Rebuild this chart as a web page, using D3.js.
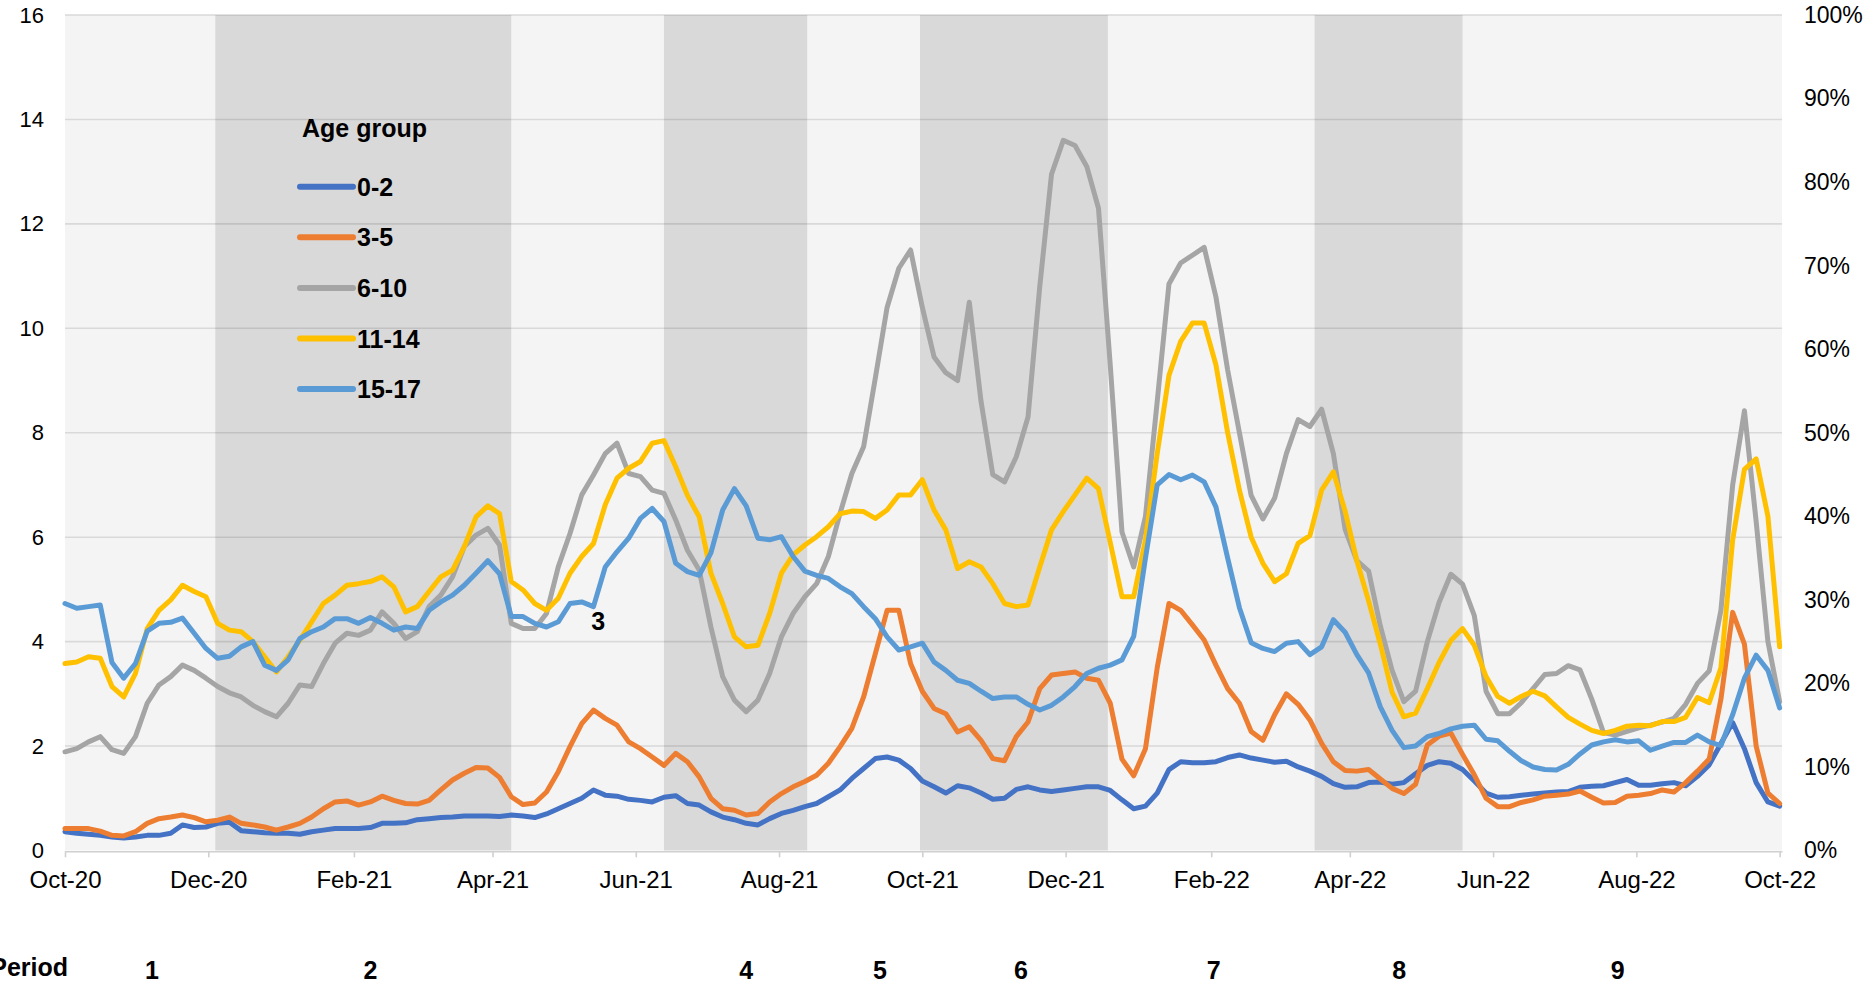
<!DOCTYPE html>
<html>
<head>
<meta charset="utf-8">
<script src="https://cdn.jsdelivr.net/npm/d3@7"></script>
<style>
  body { margin: 0; background: #fff; }
  svg { display: block; font-family: "Liberation Sans", Arial, sans-serif; }
</style>
</head>
<body>
<svg id="chart" width="1865" height="984"></svg>
<script>
// Series are sampled every 5 days starting 1 Oct 2020.
const startDate = "2020-10-01";
const stepDays = 5;

const ageGroups = ["0-2", "3-5", "6-10", "11-14", "15-17"];
const groupColors = ["#4472C4", "#ED7D31", "#A5A5A5", "#FFC000", "#5B9BD5"];

const age0to2 = [
  0.36, 0.33, 0.31, 0.29, 0.26, 0.24, 0.26, 0.29, 0.29, 0.33, 0.49, 0.44, 0.45, 0.52, 0.54, 0.38, 0.36, 0.34, 0.33,
  0.33, 0.31, 0.36, 0.39, 0.42, 0.42, 0.42, 0.44, 0.52, 0.52, 0.53, 0.59, 0.61, 0.63, 0.64, 0.66, 0.66, 0.66, 0.65,
  0.68, 0.66, 0.63, 0.70, 0.80, 0.90, 1.00, 1.16, 1.06, 1.04, 0.98, 0.96, 0.93, 1.02, 1.05, 0.90, 0.87, 0.74,
  0.64, 0.59, 0.52, 0.49, 0.61, 0.71, 0.77, 0.84, 0.90, 1.03, 1.16, 1.38, 1.57, 1.76, 1.79, 1.73, 1.57,
  1.33, 1.22, 1.10, 1.24, 1.20, 1.10, 0.98, 1.00, 1.17, 1.22, 1.16, 1.13, 1.16, 1.19, 1.22, 1.22, 1.15, 0.97, 0.80,
  0.85, 1.10, 1.55, 1.70, 1.68, 1.68, 1.70, 1.78, 1.83, 1.77, 1.73, 1.69, 1.71, 1.60, 1.52, 1.42, 1.28, 1.21, 1.22,
  1.30, 1.31, 1.27, 1.30, 1.47, 1.63, 1.70, 1.67, 1.55, 1.33, 1.10, 1.02, 1.03, 1.06, 1.08, 1.10, 1.12, 1.13,
  1.21, 1.23, 1.24, 1.30, 1.36, 1.25, 1.25, 1.28, 1.30, 1.24, 1.42, 1.64, 2.05, 2.45, 1.95, 1.30, 0.93, 0.85
];

const age3to5 = [
  0.42, 0.42, 0.42, 0.37, 0.29, 0.28, 0.36, 0.52, 0.61, 0.64, 0.68, 0.63, 0.55, 0.58, 0.64, 0.52, 0.49, 0.45, 0.39,
  0.45, 0.52, 0.64, 0.80, 0.93, 0.95, 0.87, 0.93, 1.04, 0.96, 0.90, 0.89, 0.96, 1.16, 1.35, 1.48, 1.59, 1.58, 1.40,
  1.03, 0.88, 0.91, 1.12, 1.51, 1.99, 2.43, 2.69, 2.53, 2.40, 2.08, 1.95, 1.79, 1.63, 1.86, 1.70, 1.41, 1.00,
  0.80, 0.77, 0.68, 0.71, 0.93, 1.09, 1.22, 1.32, 1.44, 1.67, 1.99, 2.34, 2.94, 3.77, 4.60, 4.60, 3.58,
  3.05, 2.72, 2.62, 2.27, 2.37, 2.11, 1.76, 1.72, 2.18, 2.46, 3.10, 3.36, 3.39, 3.42, 3.30, 3.26, 2.82, 1.75, 1.43,
  1.95, 3.50, 4.73, 4.60, 4.32, 4.03, 3.55, 3.10, 2.82, 2.28, 2.11, 2.60, 3.00, 2.80, 2.50, 2.05, 1.70, 1.53, 1.52,
  1.55, 1.37, 1.19, 1.09, 1.27, 2.02, 2.19, 2.25, 1.84, 1.45, 1.00, 0.84, 0.84, 0.92, 0.97, 1.04, 1.06, 1.08,
  1.14, 1.02, 0.91, 0.92, 1.04, 1.06, 1.09, 1.16, 1.12, 1.30, 1.52, 1.75, 2.90, 4.56, 3.95, 2.00, 1.10, 0.90
];

const age6to10 = [
  1.89, 1.95, 2.08, 2.18, 1.93, 1.86, 2.18, 2.82, 3.17, 3.33, 3.55, 3.45, 3.30, 3.14, 3.02, 2.94, 2.78, 2.66, 2.56,
  2.82, 3.17, 3.14, 3.58, 3.97, 4.16, 4.12, 4.22, 4.57, 4.35, 4.06, 4.19, 4.67, 4.89, 5.24, 5.82, 6.04, 6.17, 5.85,
  4.35, 4.25, 4.25, 4.54, 5.43, 6.07, 6.81, 7.19, 7.60, 7.80, 7.22, 7.16, 6.90, 6.84, 6.33, 5.75, 5.37, 4.28,
  3.33, 2.88, 2.66, 2.88, 3.39, 4.09, 4.54, 4.86, 5.11, 5.63, 6.46, 7.22, 7.73, 9.05, 10.40, 11.15, 11.50,
  10.40, 9.45, 9.15, 9.00, 10.50, 8.60, 7.20, 7.06, 7.54, 8.30, 10.80, 12.95, 13.60, 13.50, 13.10, 12.30, 9.30, 6.10, 5.43,
  6.40, 8.60, 10.85, 11.25, 11.40, 11.55, 10.60, 9.20, 8.00, 6.80, 6.35, 6.75, 7.60, 8.25, 8.12, 8.45, 7.60, 6.15, 5.55,
  5.35, 4.30, 3.45, 2.85, 3.05, 4.00, 4.75, 5.29, 5.10, 4.50, 3.05, 2.62, 2.62, 2.83, 3.10, 3.37, 3.39, 3.54,
  3.46, 2.90, 2.26, 2.21, 2.28, 2.35, 2.40, 2.46, 2.53, 2.80, 3.20, 3.44, 4.60, 7.00, 8.42, 6.30, 4.00, 2.85
];

const age11to14 = [
  3.58, 3.61, 3.71, 3.68, 3.14, 2.94, 3.39, 4.25, 4.60, 4.80, 5.08, 4.96, 4.86, 4.35, 4.22, 4.19, 4.00, 3.71, 3.42,
  3.71, 4.03, 4.38, 4.73, 4.89, 5.08, 5.11, 5.15, 5.24, 5.05, 4.57, 4.67, 4.96, 5.24, 5.37, 5.82, 6.39, 6.60, 6.45,
  5.15, 4.99, 4.73, 4.60, 4.83, 5.31, 5.63, 5.88, 6.62, 7.13, 7.32, 7.45, 7.80, 7.85, 7.35, 6.80, 6.39, 5.31,
  4.73, 4.09, 3.90, 3.93, 4.54, 5.31, 5.66, 5.85, 6.01, 6.20, 6.45, 6.50, 6.49, 6.36, 6.52, 6.81, 6.81,
  7.10, 6.52, 6.14, 5.40, 5.53, 5.43, 5.11, 4.73, 4.67, 4.70, 5.43, 6.14, 6.49, 6.81, 7.13, 6.93, 5.90, 4.86, 4.86,
  5.95, 7.60, 9.10, 9.75, 10.10, 10.10, 9.30, 8.00, 6.90, 6.00, 5.50, 5.15, 5.30, 5.88, 6.03, 6.90, 7.25, 6.50, 5.55,
  4.78, 3.95, 3.03, 2.56, 2.63, 3.10, 3.60, 4.02, 4.25, 3.93, 3.33, 2.95, 2.82, 2.95, 3.05, 2.96, 2.75, 2.55,
  2.42, 2.30, 2.24, 2.30, 2.38, 2.40, 2.39, 2.47, 2.47, 2.55, 2.93, 2.83, 3.50, 5.95, 7.30, 7.50, 6.40, 3.90
];

const age15to17 = [
  4.73, 4.64, 4.67, 4.70, 3.60, 3.30, 3.58, 4.20, 4.35, 4.37, 4.45, 4.16, 3.87, 3.68, 3.72, 3.90, 4.00, 3.55, 3.45,
  3.65, 4.06, 4.19, 4.28, 4.44, 4.44, 4.35, 4.46, 4.35, 4.22, 4.28, 4.25, 4.60, 4.76, 4.89, 5.08, 5.31, 5.55, 5.30,
  4.48, 4.48, 4.35, 4.28, 4.38, 4.73, 4.76, 4.67, 5.43, 5.72, 5.98, 6.36, 6.55, 6.30, 5.50, 5.34, 5.27, 5.70,
  6.52, 6.93, 6.60, 5.98, 5.95, 6.01, 5.63, 5.35, 5.27, 5.21, 5.05, 4.92, 4.67, 4.44, 4.09, 3.84, 3.90,
  3.97, 3.61, 3.45, 3.26, 3.20, 3.05, 2.91, 2.94, 2.94, 2.80, 2.69, 2.78, 2.94, 3.14, 3.39, 3.49, 3.55, 3.65, 4.10,
  5.60, 7.00, 7.20, 7.10, 7.19, 7.06, 6.58, 5.60, 4.65, 3.98, 3.87, 3.81, 3.97, 4.00, 3.75, 3.90, 4.42, 4.18, 3.75,
  3.40, 2.75, 2.30, 1.97, 2.00, 2.18, 2.24, 2.33, 2.38, 2.40, 2.13, 2.10, 1.90, 1.72, 1.60, 1.55, 1.54, 1.65,
  1.85, 2.02, 2.08, 2.12, 2.08, 2.10, 1.92, 2.00, 2.07, 2.07, 2.21, 2.08, 2.01, 2.60, 3.30, 3.74, 3.45, 2.73
];

const seriesValues = [age0to2, age3to5, age6to10, age11to14, age15to17];

// Shaded periods (2, 4, 6, 8) and the period numbers under the axis.
const periodBands = [
  ["2020-12-04", "2021-04-09"],
  ["2021-06-13", "2021-08-13"],
  ["2021-09-30", "2021-12-19"],
  ["2022-03-17", "2022-05-19"]
];
const periodNames = ["1", "2", "4", "5", "6", "7", "8", "9"];
const periodDates = ["2020-11-07", "2021-02-08", "2021-07-18", "2021-09-13",
                     "2021-11-12", "2022-02-02", "2022-04-22", "2022-07-24"];
// Period 3 label sits inside the plot.
const period3 = {name: "3", date: "2021-05-16", value: 4.4};

const leftTicks = [0, 2, 4, 6, 8, 10, 12, 14, 16];
const rightTicks = [0, 0.1, 0.2, 0.3, 0.4, 0.5, 0.6, 0.7, 0.8, 0.9, 1.0];

const parse = d3.utcParse("%Y-%m-%d");
const t0 = parse(startDate);
const dates = age0to2.map((v, i) => d3.utcDay.offset(t0, i * stepDays));

const svg = d3.select("#chart");
const plotLeft = 65, plotRight = 1782, plotTop = 15, plotBottom = 850.5;

const x = d3.scaleUtc()
    .domain([parse("2020-10-01"), parse("2022-10-02")])
    .range([plotLeft, plotRight]);
const y = d3.scaleLinear().domain([0, 16]).range([plotBottom, plotTop]);
const y2 = d3.scaleLinear().domain([0, 1]).range([plotBottom, plotTop]);

// Plot background
svg.append("rect")
    .attr("x", plotLeft).attr("y", plotTop)
    .attr("width", plotRight - plotLeft).attr("height", plotBottom - plotTop)
    .attr("fill", "#f4f4f4");

// Gridlines
svg.append("g")
    .selectAll("line")
    .data(leftTicks.filter(d => d > 0))
    .join("line")
    .attr("x1", plotLeft).attr("x2", plotRight)
    .attr("y1", d => y(d)).attr("y2", d => y(d))
    .attr("stroke", "#d9d9d9")
    .attr("stroke-width", 1.6);

// Darker bands for the even periods
svg.append("g")
    .selectAll("rect")
    .data(periodBands)
    .join("rect")
    .attr("x", d => x(parse(d[0])))
    .attr("width", d => x(parse(d[1])) - x(parse(d[0])))
    .attr("y", plotTop)
    .attr("height", plotBottom - plotTop)
    .attr("fill", "rgba(0,0,0,0.11)");

// X axis
const monthTicks = d3.utcMonth.range(parse("2020-10-01"), parse("2022-10-02"), 2);
const xAxis = svg.append("g")
    .attr("transform", "translate(0," + (plotBottom + 0.8) + ")")
    .call(d3.axisBottom(x)
        .tickValues(monthTicks)
        .tickFormat(d3.utcFormat("%b-%y"))
        .tickSize(6)
        .tickSizeOuter(0));
xAxis.select(".domain").attr("stroke", "#d0d0d0").attr("stroke-width", 1.6);
xAxis.selectAll(".tick line").attr("stroke", "#d0d0d0").attr("stroke-width", 1.6);
xAxis.selectAll(".tick text")
    .attr("y", 37).attr("dy", 0)
    .attr("font-size", 24)
    .attr("fill", "#000");

// Left axis
const yAxis = svg.append("g")
    .attr("transform", "translate(" + plotLeft + ",0)")
    .call(d3.axisLeft(y).tickValues(leftTicks).tickSize(0).tickPadding(21));
yAxis.select(".domain").remove();
yAxis.selectAll(".tick text").attr("font-size", 22).attr("fill", "#000");

// Right axis
const y2Axis = svg.append("g")
    .attr("transform", "translate(" + plotRight + ",0)")
    .call(d3.axisRight(y2).tickValues(rightTicks).tickFormat(d3.format(".0%"))
        .tickSize(0).tickPadding(22));
y2Axis.select(".domain").remove();
y2Axis.selectAll(".tick text").attr("font-size", 23).attr("fill", "#000");

// Lines, 15-17 drawn last so it sits on top
const line = d3.line()
    .defined(d => d[1] != null)
    .x(d => x(d[0]))
    .y(d => y(d[1]));

svg.append("g")
    .selectAll("path")
    .data(seriesValues)
    .join("path")
    .attr("d", vals => line(vals.map((v, i) => [dates[i], v])))
    .attr("fill", "none")
    .attr("stroke", (d, i) => groupColors[i])
    .attr("stroke-width", 5)
    .attr("stroke-linejoin", "round")
    .attr("stroke-linecap", "round");

// Legend
const legend = svg.append("g");
legend.append("text")
    .attr("x", 302).attr("y", 137)
    .attr("font-size", 25).attr("font-weight", "bold")
    .text("Age group");

const item = legend.selectAll("g.item")
    .data(ageGroups)
    .join("g")
    .attr("class", "item")
    .attr("transform", (d, i) => "translate(0," + (186.7 + i * 50.6) + ")");
item.append("line")
    .attr("x1", 300).attr("x2", 353)
    .attr("stroke", (d, i) => groupColors[i])
    .attr("stroke-width", 6)
    .attr("stroke-linecap", "round");
item.append("text")
    .attr("x", 357).attr("y", 9)
    .attr("font-size", 25).attr("font-weight", "bold")
    .text(d => d);

// Period labels (the word "Period" runs off the left edge, as in the original)
svg.append("text")
    .attr("x", 68).attr("y", 976)
    .attr("text-anchor", "end")
    .attr("font-size", 25).attr("font-weight", "bold")
    .text("Period");

svg.append("g")
    .selectAll("text")
    .data(periodNames)
    .join("text")
    .attr("x", (d, i) => x(parse(periodDates[i])))
    .attr("y", 979)
    .attr("text-anchor", "middle")
    .attr("font-size", 25).attr("font-weight", "bold")
    .text(d => d);

svg.append("text")
    .attr("x", x(parse(period3.date)))
    .attr("y", y(period3.value))
    .attr("dy", "0.36em")
    .attr("text-anchor", "middle")
    .attr("font-size", 25).attr("font-weight", "bold")
    .text(period3.name);
</script>
</body>
</html>
